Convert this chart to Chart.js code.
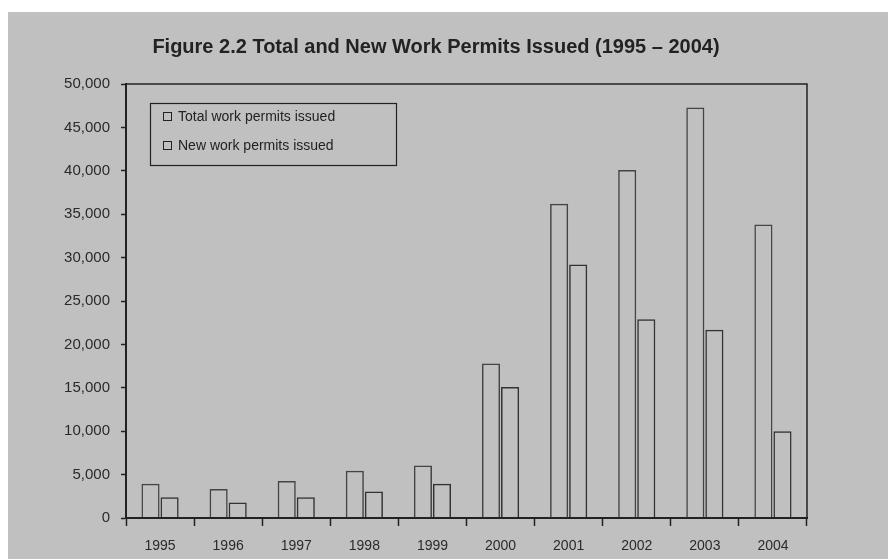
<!DOCTYPE html>
<html>
<head>
<meta charset="utf-8">
<script src="https://cdn.jsdelivr.net/npm/chart.js@4/dist/chart.umd.min.js"></script>
<style>
  html, body { margin: 0; padding: 0; background: #fff; }
  #wrap { position: absolute; left: 0; top: 0; width: 888px; height: 559px; }
</style>
</head>
<body>
<div id="wrap"><canvas id="mychart" width="888" height="559"></canvas></div>
<script>
const years = ['1995', '1996', '1997', '1998', '1999', '2000', '2001', '2002', '2003', '2004'];
const totalPermits = [3950, 3350, 4250, 5450, 6050, 17800, 36200, 40100, 47300, 33800];
const newPermits = [2400, 1800, 2400, 3050, 3950, 15100, 29200, 22900, 21700, 10000];
const seriesNames = ['Total work permits issued', 'New work permits issued'];
const titleText = 'Figure 2.2 Total and New Work Permits Issued (1995 \u2013 2004)';

const fontName = '"Liberation Sans", Arial, sans-serif';
const ink = '#222';

// grey page background, with the thin white margin on top and left
const pageBg = {
    id: 'pageBg',
    beforeDraw(chart) {
        const c = chart.ctx;
        c.save();
        c.fillStyle = '#fff';
        c.fillRect(0, 0, chart.width, chart.height);
        c.fillStyle = '#c0c0c0';
        c.fillRect(8, 12, chart.width - 8, chart.height - 12);
        c.restore();
    }
};

// title is off-centre in the original, so draw it by hand
const figTitle = {
    id: 'figTitle',
    afterDraw(chart) {
        const c = chart.ctx;
        c.save();
        c.fillStyle = ink;
        c.font = 'bold 20px ' + fontName;
        c.textAlign = 'center';
        c.textBaseline = 'middle';
        c.fillText(titleText, 436, 47);
        c.restore();
    }
};

// frame round the plot area
const plotFrame = {
    id: 'plotFrame',
    afterDatasetsDraw(chart) {
        const a = chart.chartArea;
        const c = chart.ctx;
        c.save();
        c.strokeStyle = ink;
        c.lineWidth = 1.5;
        c.beginPath();
        c.moveTo(a.left, a.top);
        c.lineTo(a.right, a.top);
        c.lineTo(a.right, a.bottom);
        c.stroke();
        c.restore();
    }
};

// boxed legend inside the plot
const boxLegend = {
    id: 'boxLegend',
    afterDraw(chart) {
        const c = chart.ctx;
        const x = 150, y = 103, w = 246, h = 62;
        c.save();
        c.strokeStyle = ink;
        c.lineWidth = 1.2;
        c.strokeRect(x + 0.5, y + 0.5, w, h);
        c.font = '14px ' + fontName;
        c.textBaseline = 'middle';
        chart.data.datasets.forEach((ds, i) => {
            const cy = y + 14 + i * 29;
            c.strokeStyle = ink;
            c.lineWidth = 1;
            c.strokeRect(163.5, cy - 4.5, 8, 8);
            c.fillStyle = ink;
            c.fillText(ds.label, 178, cy);
        });
        c.restore();
    }
};

new Chart(document.getElementById('mychart'), {
    type: 'bar',
    data: {
        labels: years,
        datasets: [
            {
                label: seriesNames[0],
                data: totalPermits,
                backgroundColor: 'rgba(0,0,0,0)',
                borderColor: '#444',
                borderWidth: 1.5,
                categoryPercentage: 0.56,
                barPercentage: 0.95
            },
            {
                label: seriesNames[1],
                data: newPermits,
                backgroundColor: 'rgba(0,0,0,0)',
                borderColor: '#333',
                borderWidth: 1.5,
                categoryPercentage: 0.56,
                barPercentage: 0.95
            }
        ]
    },
    options: {
        responsive: false,
        animation: false,
        layout: { padding: { left: 8, right: 81, top: 84, bottom: 0 } },
        plugins: {
            legend: { display: false },
            tooltip: { enabled: false },
            title: { display: false }
        },
        scales: {
            x: {
                grid: {
                    display: true,
                    offset: true,
                    drawOnChartArea: false,
                    tickLength: 8,
                    tickColor: ink,
                    tickWidth: 1.5
                },
                border: { color: ink, width: 2 },
                ticks: {
                    color: '#2a2a2a',
                    font: { family: fontName, size: 14 },
                    padding: 12
                },
                afterFit(s) { s.height = 41; }
            },
            y: {
                min: 0,
                max: 50000,
                grid: {
                    drawOnChartArea: false,
                    tickLength: 5,
                    tickColor: ink,
                    tickWidth: 1.5
                },
                border: { color: ink, width: 2 },
                ticks: {
                    stepSize: 5000,
                    color: '#2a2a2a',
                    font: { family: fontName, size: 15 },
                    padding: 11,
                    callback: v => v.toLocaleString('en-US')
                },
                afterFit(s) { s.width = 118; }
            }
        }
    },
    plugins: [pageBg, plotFrame, boxLegend, figTitle]
});
</script>
</body>
</html>
